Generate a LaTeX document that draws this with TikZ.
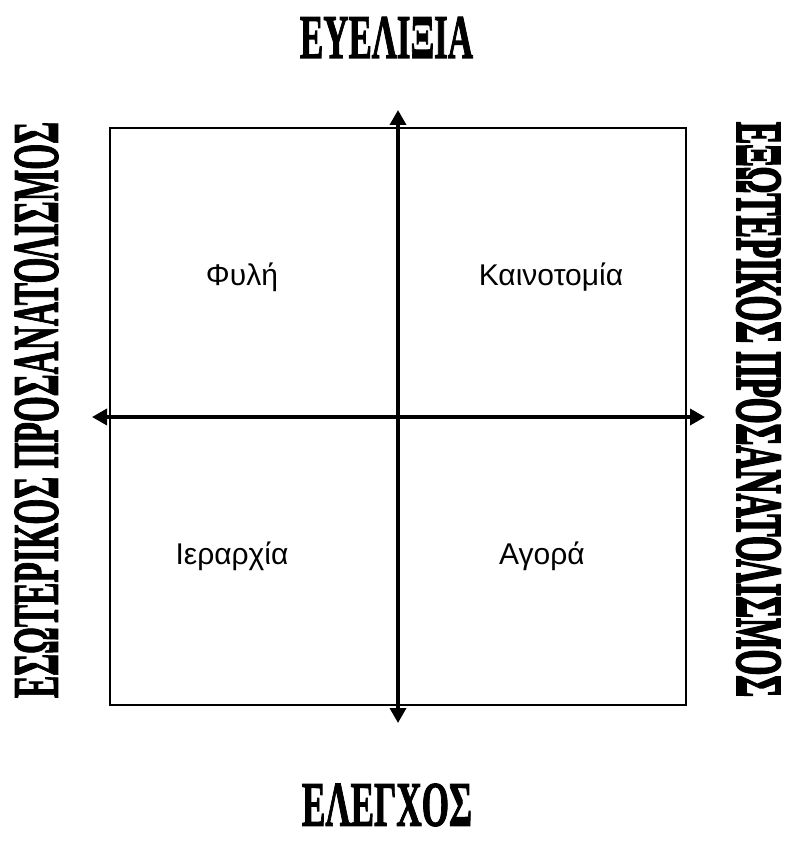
\documentclass[tikz,border=0pt]{standalone}
\usepackage{fontspec}
\setmainfont{Liberation Serif}
\newfontfamily\quadfont{Liberation Sans}
\newfontfamily\headfont{Liberation Serif Bold}[FakeBold=2]
\newfontfamily\heavyfont{Liberation Serif Bold}[FakeBold=3.5]
\usetikzlibrary{arrows.meta}

\begin{document}
\begin{tikzpicture}[x=1pt,y=-1pt,
  frame/.style={draw=black,line width=2pt},
  axis/.style={{Triangle[length=15pt,width=16pt]}-{Triangle[length=15pt,width=16pt]},draw=black,line width=3.5pt},
  quad/.style={font=\quadfont\fontsize{30}{34}\selectfont,inner sep=0pt},
  heading/.style={font=\headfont,inner sep=0pt},
]
\useasboundingbox (0,0) rectangle (784,845);

\draw[frame] (110,128) rectangle (686,705);

\coordinate (top) at (398,110);
\coordinate (bottom) at (398,723);
\coordinate (left) at (92,417);
\coordinate (right) at (705,417);
\draw[axis] (bottom) -- (top);
\draw[axis] (left) -- (right);

\node[quad] (tribe) at (242,277) {Φυλή};
\node[quad] (innov) at (551,277) {Καινοτομία};
\node[quad] (hier) at (232,556) {Ιεραρχία};
\node[quad] (market) at (542,556) {Αγορά};

\node[heading] (flex) at (386.5,37.5) {\resizebox{173pt}{41pt}{ΕΥΕΛΙΞΙΑ}};
\node[heading] (ctrl) at (387,805) {\resizebox{170pt}{42pt}{ΕΛΕΓΧΟΣ}};
\node[heading,rotate=90] (inner) at (36.5,410) {\resizebox{576pt}{43pt}{ΕΣΩΤΕΡΙΚΟΣ ΠΡΟΣΑΝΑΤΟΛΙΣΜΟΣ}};
\node[heading,font=\heavyfont,rotate=-90] (outer) at (758.5,409.5) {\resizebox{575pt}{43pt}{ΕΞΩΤΕΡΙΚΟΣ ΠΡΟΣΑΝΑΤΟΛΙΣΜΟΣ}};

\end{tikzpicture}
\end{document}
